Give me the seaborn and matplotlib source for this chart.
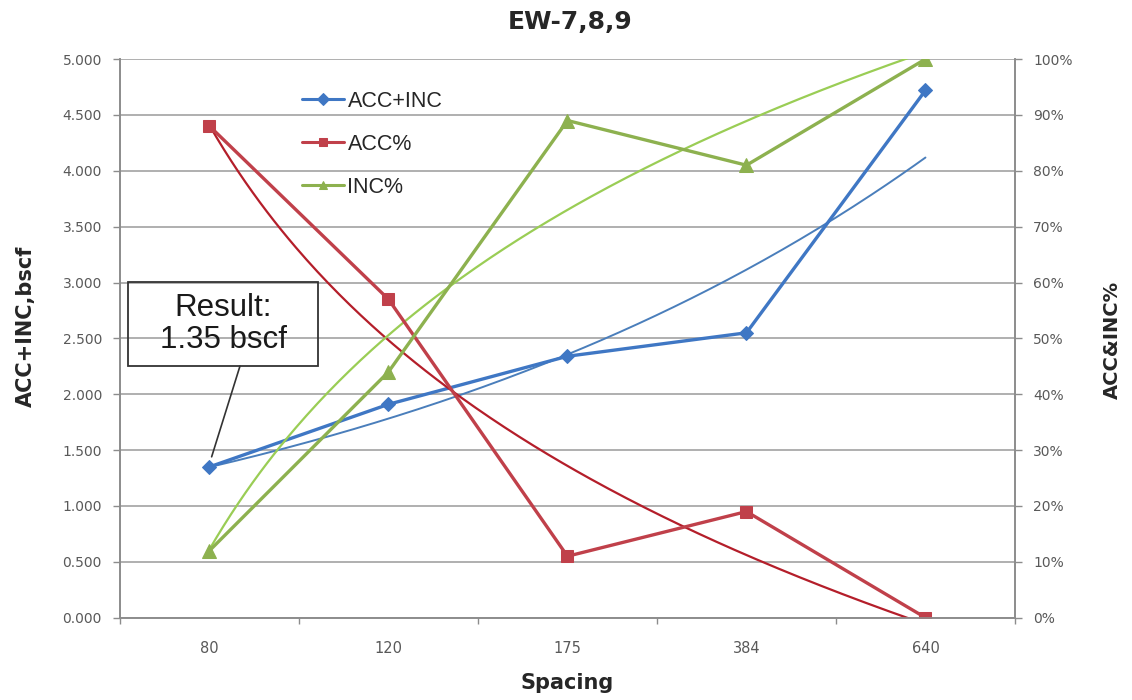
import numpy as np
import pandas as pd
import matplotlib
matplotlib.use("Agg")
import matplotlib.pyplot as plt
from matplotlib.patches import Rectangle
from matplotlib.ticker import PercentFormatter, FixedLocator, FuncFormatter
import seaborn as sns

# Spacing cases and measured results
spacing = ["80", "120", "175", "384", "640"]
acc_inc = [1.35, 1.91, 2.34, 2.55, 4.72]      # bscf
acc_pct = [0.88, 0.57, 0.11, 0.19, 0.00]
inc_pct = [0.12, 0.44, 0.89, 0.81, 1.00]

sns.set_theme(style="white")
plt.rcParams["font.family"] = ["DejaVu Sans"]

BLUE = "#3F77C4"
BLUE_T = "#4A7EBB"
RED = "#C0404A"
RED_T = "#B41E2A"
GREEN = "#8DB14F"
GREEN_T = "#9ACD55"
GRID = "#A9A9A9"
TICK_C = "#595959"

pos = np.arange(len(spacing))
df = pd.DataFrame({"pos": pos, "ACC+INC": acc_inc, "ACC%": acc_pct, "INC%": inc_pct})

# Excel-style trendlines, fitted on category index 1..n
n = np.arange(1, len(spacing) + 1)
xs = np.linspace(1, len(spacing), 200)
b_exp, a_exp = np.polyfit(n, np.log(acc_inc), 1)
b_acc, a_acc = np.polyfit(np.log(n), acc_pct, 1)
b_inc, a_inc = np.polyfit(np.log(n), inc_pct, 1)
trend = pd.DataFrame({
    "pos": xs - 1,
    "exp": np.exp(a_exp + b_exp * xs),
    "acc": a_acc + b_acc * np.log(xs),
    "inc": a_inc + b_inc * np.log(xs),
})

fig = plt.figure(figsize=(11.32, 7.0), dpi=100)
ax = fig.add_axes([0.106, 0.1176, 0.7906, 0.798])
ax2 = ax.twinx()

# left axis: total volume
sns.lineplot(data=trend, x="pos", y="exp", ax=ax, color=BLUE_T, lw=1.4, legend=False)
sns.lineplot(data=df, x="pos", y="ACC+INC", ax=ax, color=BLUE, lw=2.4,
             marker="D", markersize=7, markeredgecolor=BLUE, label="ACC+INC")

# right axis: split percentages
sns.lineplot(data=trend, x="pos", y="acc", ax=ax2, color=RED_T, lw=1.6, legend=False)
sns.lineplot(data=trend, x="pos", y="inc", ax=ax2, color=GREEN_T, lw=1.6, legend=False)
sns.lineplot(data=df, x="pos", y="ACC%", ax=ax2, color=RED, lw=2.4,
             marker="s", markersize=9, markeredgecolor=RED, label="ACC%")
sns.lineplot(data=df, x="pos", y="INC%", ax=ax2, color=GREEN, lw=2.4,
             marker="^", markersize=9.5, markeredgecolor=GREEN, label="INC%")

ax.set_xlim(-0.5, len(spacing) - 0.5)
ax.set_ylim(0, 5)
ax2.set_ylim(0, 1)

ax.set_yticks(np.arange(0, 5.01, 0.5))
ax.yaxis.set_major_formatter(FuncFormatter(lambda v, p: f"{v:.3f}"))
ax2.set_yticks(np.arange(0, 1.01, 0.1))
ax2.yaxis.set_major_formatter(PercentFormatter(xmax=1, decimals=0))
ax.set_xticks(pos)
ax.set_xticklabels(spacing)
ax.xaxis.set_minor_locator(FixedLocator(np.arange(-0.5, len(spacing), 1.0)))

ax.grid(axis="y", color=GRID, lw=1.3)
ax.grid(axis="x", visible=False)
ax2.grid(False)
ax.set_axisbelow(True)

for a in (ax, ax2):
    a.spines["top"].set_visible(False)
    for s in ("left", "right", "bottom"):
        a.spines[s].set_color("#8C8C8C")
        a.spines[s].set_linewidth(1.2)
    a.set_xlabel("")
    a.set_ylabel("")

ax.tick_params(axis="y", which="major", direction="out", length=5, width=1,
               color="#8C8C8C", labelsize=10, labelcolor=TICK_C, pad=8, left=True)
ax2.tick_params(axis="y", which="major", direction="out", length=5, width=1,
                color="#8C8C8C", labelsize=10, labelcolor=TICK_C, pad=8, right=True)
ax.tick_params(axis="x", which="major", length=0, labelsize=10.5, labelcolor=TICK_C, pad=17)
ax.tick_params(axis="x", which="minor", direction="out", length=4, width=1,
               color="#8C8C8C", bottom=True)

# legend combined from both axes
h1, l1 = ax.get_legend_handles_labels()
h2, l2 = ax2.get_legend_handles_labels()
if ax.get_legend():
    ax.get_legend().remove()
leg = ax2.legend(h1 + h2, l1 + l2, loc="upper left", bbox_to_anchor=(0.182, 0.978),
                 frameon=False, handlelength=1.95, labelspacing=1.02, handletextpad=0.15,
                 prop={"family": "Liberation Sans", "size": 15.5})
for line in leg.get_lines():
    line.set_linewidth(2.2)
    line.set_markersize(6)

# callout for the 80 ft spacing result
fig.patches.append(Rectangle((128 / 1132, 1 - 366 / 700), 190 / 1132, 84 / 700,
                             transform=fig.transFigure, fill=False,
                             ec="#333333", lw=1.3, zorder=10))
fig.text(223 / 1132, 1 - 324 / 700, "Result:\n1.35 bscf", ha="center", va="center",
         fontsize=22.5, family="Liberation Sans", color="#1A1A1A", linespacing=1.1)
ax.annotate("", xy=(0.012, 1.44), xytext=(240 / 1132, 1 - 366 / 700),
            textcoords="figure fraction",
            arrowprops=dict(arrowstyle="-", color="#333333", lw=1.2,
                            shrinkA=0, shrinkB=0))

fig.text(0.504, 0.969, "EW-7,8,9", ha="center", va="center",
         fontsize=18, fontweight="bold", color="#262626")
fig.text(0.501, 0.024, "Spacing", ha="center", va="center",
         fontsize=15, fontweight="bold", color="#262626")
fig.text(0.023, 0.534, "ACC+INC,bscf", ha="center", va="center", rotation=90,
         fontsize=15, fontweight="bold", color="#262626")
fig.text(0.983, 0.514, "ACC&INC%", ha="center", va="center", rotation=90,
         fontsize=14, fontweight="bold", color="#262626")

fig.savefig("out.png", dpi=100, facecolor="white")
